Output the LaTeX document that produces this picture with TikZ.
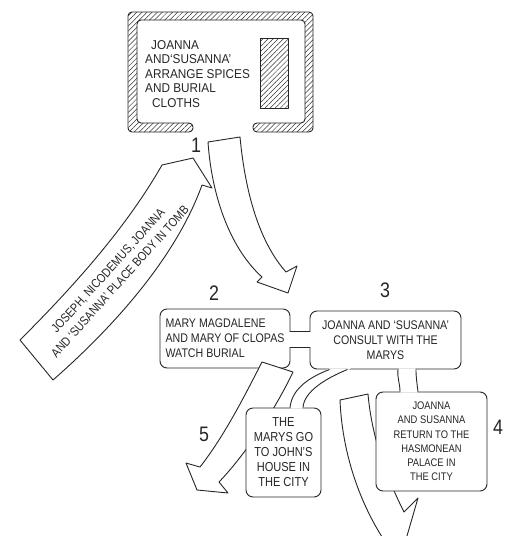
\documentclass[tikz,border=0pt]{standalone}
\usepackage{fontspec}
\newfontfamily\hand{Liberation Sans}[FakeStretch=0.85]
\newfontfamily\handwide{Liberation Sans}[FakeStretch=0.92]
\usetikzlibrary{positioning, calc, patterns.meta}

\tikzset{
  ink/.style={draw=black!85, line width=0.9pt, line join=round},
  hatch/.style={ink, pattern={Lines[angle=45,distance=3.6pt,line width=0.5pt]}, pattern color=black!80},
  box/.style={ink, fill=white, rounded corners=7pt, inner sep=0pt},
  blockarrow/.style={ink, fill=white},
  boxtext/.style={font=\hand\fontsize{12.5}{15}\selectfont, align=center, text=black!85, inner sep=0pt},
  stepno/.style={font=\hand\fontsize{21}{21}\selectfont, text=black!85},
}

\begin{document}
\begin{tikzpicture}[x=1pt, y=-1pt]
  \useasboundingbox (0,0) rectangle (516,536);
  \clip (0,0) rectangle (516,536);

  % the tomb
  \draw[hatch, rounded corners=4pt] (193,132) -- (128,132) -- (128,12) -- (313,12) -- (313,132)
    -- (253,132) -- (253,123) -- (305,123) -- (305,20) -- (137,20) -- (137,123) -- (193,123) -- cycle;
  \draw[hatch] (260,38) rectangle (288,108);
  \node[boxtext, align=left, anchor=north west, font=\handwide\fontsize{12.8}{14.5}\selectfont] (tombtext) at (145,40)
    {\hspace{6pt}JOANNA\\AND‘SUSANNA’\\ARRANGE SPICES\\AND BURIAL\\\hspace{7pt}CLOTHS};

  % 1 -> tomb : place body
  \draw[blockarrow] (20,340) -- (53,380) .. controls (110,330) and (175,260) .. (202,185)
    -- (212,188) -- (193,158) -- (162,165) .. controls (125,230) and (70,290) .. (20,340) -- cycle;
  \node[boxtext, rotate=48, font=\hand\fontsize{12.5}{16}\selectfont] (bodytext) at (114,276)
    {JOSEPH, NICODEMUS, JOANNA\\AND ‘SUSANNA’ PLACE BODY IN TOMB};

  % tomb -> 3
  \draw[blockarrow] (208,142) .. controls (212,200) and (232,250) .. (262,277) -- (257,282)
    -- (288,293) -- (297,266) -- (286,272) .. controls (262,245) and (246,200) .. (240,137) -- cycle;

  % 2 and 3
  \node[box, boxtext, align=left, minimum width=130pt, minimum height=59pt] (b2) at (225,338.5)
    {MARY MAGDALENE\\AND MARY OF CLOPAS\\WATCH BURIAL};
  \node[box, boxtext, minimum width=151pt, minimum height=58pt] (b3) at (385.5,340)
    {JOANNA AND ‘SUSANNA’\\CONSULT WITH THE\\MARYS};
  \fill[white] ($(b2.east)+(-1,-7)$) rectangle ($(b3.west)+(1,6.5)$);
  \draw[ink] ($(b2.east)+(0,-7.5)$) -- ($(b3.west)+(0,-9)$);
  \draw[ink] ($(b2.east)+(0,8.5)$) -- ($(b3.west)+(0,7)$);

  % 2 -> 5
  \draw[blockarrow] (262,362) .. controls (245,395) and (225,435) .. (200,467) -- (186,463)
    -- (197,490) -- (228,493) -- (219,482) .. controls (245,455) and (275,410) .. (293,372) -- cycle;

  % 3 -> out
  \draw[blockarrow] (340,400) .. controls (342,450) and (358,500) .. (384,540) -- (372,548)
    -- (400,560) -- (418,498) -- (404,512) .. controls (388,480) and (372,440) .. (368,394) -- cycle;

  % 4 and 5
  \node[box, boxtext, font=\hand\fontsize{11}{14.2}\selectfont, minimum width=111pt, minimum height=99pt] (b4) at (431.5,441.5)
    {JOANNA\\AND SUSANNA\\RETURN TO THE\\HASMONEAN\\PALACE IN\\THE CITY};
  \node[box, boxtext, font=\hand\fontsize{13}{15}\selectfont, minimum width=75pt, minimum height=89pt] (b5) at (283.5,452.5)
    {THE\\MARYS GO\\TO JOHN’S\\HOUSE IN\\THE CITY};

  % 3 -- 4
  \fill[white] ($(b3.south)+(13,-1)$) -- ($(b4.north)+(-31,1)$) -- ($(b4.north)+(-14,1)$) -- ($(b3.south)+(30,-1)$) -- cycle;
  \draw[ink] ($(b3.south)+(12.5,0)$) .. controls +(-1,8) and +(0,-8) .. ($(b4.north)+(-31.5,0)$);
  \draw[ink] ($(b3.south)+(30.5,0)$) .. controls +(0,8) and +(-1,-8) .. ($(b4.north)+(-13.5,0)$);

  % 3 -- 5
  \fill[white] ($(b3.south west)+(20,-1)$) .. controls +(-18,7) and +(2,-20) .. ($(b5.north)+(7,1)$)
    -- ($(b5.north)+(19,1)$) .. controls +(1,-16) and +(22,-9) .. ($(b3.south west)+(38,-1)$) -- cycle;
  \draw[ink] ($(b3.south west)+(20,0)$) .. controls +(-18,7) and +(2,-20) .. ($(b5.north)+(6.5,0)$);
  \draw[ink] ($(b3.south west)+(38,0)$) .. controls +(-22,9) and +(1,-16) .. ($(b5.north)+(19.5,0)$);

  % step numbers
  \node[stepno] (n1) at (196,145) {1};
  \node[stepno] (n2) at (214,293) {2};
  \node[stepno] (n3) at (385,290) {3};
  \node[stepno] (n4) at (498,427) {4};
  \node[stepno] (n5) at (204,434) {5};
\end{tikzpicture}
\end{document}
